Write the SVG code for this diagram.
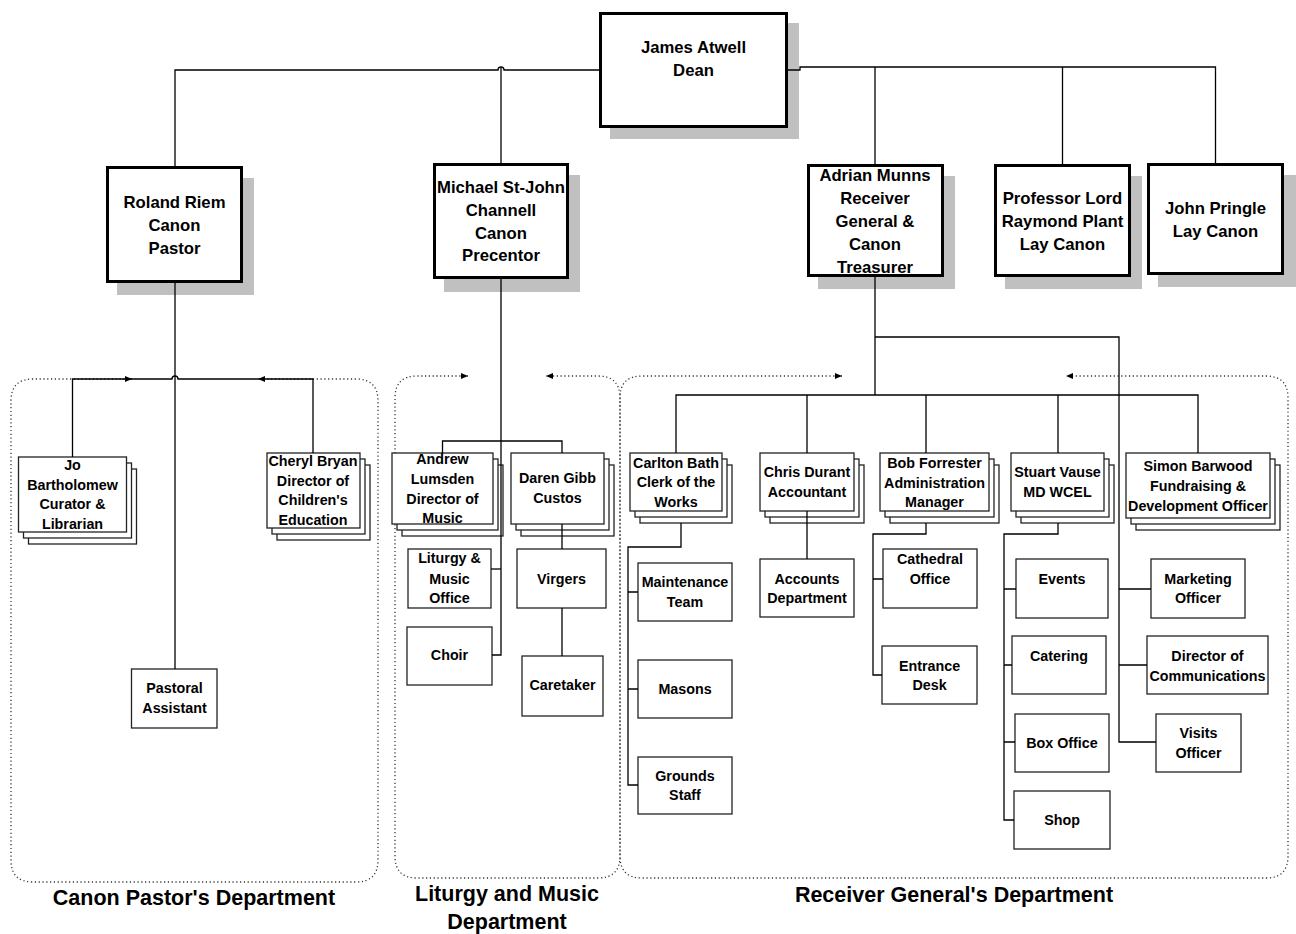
<svg xmlns="http://www.w3.org/2000/svg" width="1296" height="934" viewBox="0 0 1296 934">
<defs>
<style>
text{font-family:"Liberation Sans",Arial,sans-serif;font-weight:bold;text-anchor:middle;fill:#000}
.big{font-size:16.7px}
.sm{font-size:14.3px}
.dept{font-size:21.5px}
.shadow{fill:#c0c0c0;stroke:none}
.top{fill:#fff;stroke:#000;stroke-width:3}
.box{fill:#fff;stroke:#222;stroke-width:1.3}
.conn{fill:none;stroke:#000;stroke-width:1.3}
.frame{fill:none;stroke:#333;stroke-width:1.3;stroke-dasharray:1.2 2.6}
</style>
<marker id="arr" viewBox="0 0 7 6" refX="7" refY="3" markerWidth="7" markerHeight="6" markerUnits="userSpaceOnUse" orient="auto-start-reverse">
<path d="M0,0 L7,3 L0,6 z" fill="#000"/>
</marker>
</defs>
<rect width="1296" height="934" fill="#fff"/>

<g id="departments">
<path class="frame" marker-start="url(#arr)" marker-end="url(#arr)" d="M132,379 H33 Q11,379 11,401 V860 Q11,882 33,882 H356 Q378,882 378,860 V401 Q378,379 356,379 H258"/>
<path class="frame" marker-start="url(#arr)" marker-end="url(#arr)" d="M468,376 H417 Q395,376 395,398 V856 Q395,878 417,878 H598 Q620,878 620,856 V398 Q620,376 598,376 H546"/>
<path class="frame" marker-start="url(#arr)" marker-end="url(#arr)" d="M842,376 H642 Q620,376 620,398 V856 Q620,878 642,878 H1266 Q1288,878 1288,856 V398 Q1288,376 1266,376 H1066"/>
<text class="dept" x="194" y="905">Canon Pastor's Department</text>
<text class="dept" x="507" y="901">Liturgy and Music</text>
<text class="dept" x="507" y="929">Department</text>
<text class="dept" x="954" y="902">Receiver General's Department</text>
</g>

<g id="dean">
<rect class="shadow" x="610" y="23" width="189" height="116"/>
<rect class="top" x="600.5" y="13.5" width="186" height="113"/>
<text class="big" x="693.5" y="52.5">James Atwell</text>
<text class="big" x="693.5" y="75.5">Dean</text>
</g>
<g id="roland">
<rect class="shadow" x="117" y="178" width="137" height="117"/>
<rect class="top" x="107.5" y="167.5" width="134" height="114"/>
<text class="big" x="174.5" y="207.5">Roland Riem</text>
<text class="big" x="174.5" y="230.5">Canon</text>
<text class="big" x="174.5" y="253.5">Pastor</text>
</g>
<g id="michael">
<rect class="shadow" x="444" y="175" width="136" height="117"/>
<rect class="top" x="434.5" y="164.5" width="133" height="113"/>
<text class="big" x="501" y="193">Michael St-John</text>
<text class="big" x="501" y="216">Channell</text>
<text class="big" x="501" y="238.5">Canon</text>
<text class="big" x="501" y="261">Precentor</text>
</g>
<g id="adrian">
<rect class="shadow" x="818" y="176" width="137" height="113"/>
<rect class="top" x="808.5" y="165.5" width="134" height="110"/>
<text class="big" x="875" y="181">Adrian Munns</text>
<text class="big" x="875" y="204">Receiver</text>
<text class="big" x="875" y="227">General &amp;</text>
<text class="big" x="875" y="250">Canon</text>
<text class="big" x="875" y="273">Treasurer</text>
</g>
<g id="plant">
<rect class="shadow" x="1005" y="176" width="137" height="113"/>
<rect class="top" x="995.5" y="165.5" width="134" height="110"/>
<text class="big" x="1062.5" y="204">Professor Lord</text>
<text class="big" x="1062.5" y="227">Raymond Plant</text>
<text class="big" x="1062.5" y="250">Lay Canon</text>
</g>
<g id="pringle">
<rect class="shadow" x="1158" y="175" width="138" height="112"/>
<rect class="top" x="1148.5" y="164.5" width="134" height="109"/>
<text class="big" x="1215.5" y="214">John Pringle</text>
<text class="big" x="1215.5" y="237">Lay Canon</text>
</g>

<g id="jo">
<rect class="box" x="28.5" y="469" width="108" height="75"/>
<rect class="box" x="23.5" y="463" width="108" height="75"/>
<rect class="box" x="18.5" y="457" width="108" height="75"/>
<text class="sm" x="72.5" y="470">Jo</text>
<text class="sm" x="72.5" y="489.5">Bartholomew</text>
<text class="sm" x="72.5" y="509">Curator &amp;</text>
<text class="sm" x="72.5" y="528.5">Librarian</text>
</g>
<g id="cheryl">
<rect class="box" x="277" y="465" width="93" height="75"/>
<rect class="box" x="272" y="459" width="93" height="75"/>
<rect class="box" x="267" y="453" width="93" height="75"/>
<text class="sm" x="313" y="466">Cheryl Bryan</text>
<text class="sm" x="313" y="485.5">Director of</text>
<text class="sm" x="313" y="505">Children's</text>
<text class="sm" x="313" y="525">Education</text>
</g>
<g id="pastoral">
<rect class="box" x="131.5" y="669" width="85.5" height="59"/>
<text class="sm" x="174.5" y="693">Pastoral</text>
<text class="sm" x="174.5" y="713">Assistant</text>
</g>

<g id="andrew">
<rect class="box" x="402" y="465" width="101" height="71"/>
<rect class="box" x="397" y="459" width="101" height="71"/>
<rect class="box" x="392" y="453" width="101" height="71"/>
<text class="sm" x="442.5" y="463.5">Andrew</text>
<text class="sm" x="442.5" y="483.5">Lumsden</text>
<text class="sm" x="442.5" y="503.5">Director of</text>
<text class="sm" x="442.5" y="523">Music</text>
</g>
<g id="daren">
<rect class="box" x="521" y="465" width="93" height="71"/>
<rect class="box" x="516" y="459" width="93" height="71"/>
<rect class="box" x="511" y="453" width="93" height="71"/>
<text class="sm" x="557.5" y="483">Daren Gibb</text>
<text class="sm" x="557.5" y="503">Custos</text>
</g>
<g id="liturgyoffice">
<rect class="box" x="408" y="549" width="83" height="59"/>
<text class="sm" x="449.5" y="563">Liturgy &amp;</text>
<text class="sm" x="449.5" y="583.5">Music</text>
<text class="sm" x="449.5" y="603">Office</text>
</g>
<g id="virgers">
<rect class="box" x="517" y="549" width="89" height="59"/>
<text class="sm" x="561.5" y="583.5">Virgers</text>
</g>
<g id="choir">
<rect class="box" x="407" y="627" width="85" height="58"/>
<text class="sm" x="449.5" y="660">Choir</text>
</g>
<g id="caretaker">
<rect class="box" x="522" y="656" width="81" height="60"/>
<text class="sm" x="562.5" y="690">Caretaker</text>
</g>

<g id="carlton">
<rect class="box" x="640" y="465" width="92" height="58"/>
<rect class="box" x="635" y="459" width="92" height="58"/>
<rect class="box" x="630" y="453" width="92" height="58"/>
<text class="sm" x="676" y="467.5">Carlton Bath</text>
<text class="sm" x="676" y="487">Clerk of the</text>
<text class="sm" x="676" y="506.5">Works</text>
</g>
<g id="maintenance">
<rect class="box" x="638" y="563" width="94" height="58"/>
<text class="sm" x="685" y="587">Maintenance</text>
<text class="sm" x="685" y="607">Team</text>
</g>
<g id="masons">
<rect class="box" x="638" y="660" width="94" height="58"/>
<text class="sm" x="685" y="694">Masons</text>
</g>
<g id="grounds">
<rect class="box" x="638" y="757" width="94" height="57"/>
<text class="sm" x="685" y="781">Grounds</text>
<text class="sm" x="685" y="800">Staff</text>
</g>
<g id="chris">
<rect class="box" x="770" y="465" width="94" height="58"/>
<rect class="box" x="765" y="459" width="94" height="58"/>
<rect class="box" x="760" y="453" width="94" height="58"/>
<text class="sm" x="807" y="477">Chris Durant</text>
<text class="sm" x="807" y="497">Accountant</text>
</g>
<g id="accounts">
<rect class="box" x="760" y="559" width="94" height="58"/>
<text class="sm" x="807" y="584">Accounts</text>
<text class="sm" x="807" y="603">Department</text>
</g>
<g id="bob">
<rect class="box" x="890" y="465" width="109" height="58"/>
<rect class="box" x="885" y="459" width="109" height="58"/>
<rect class="box" x="880" y="453" width="109" height="58"/>
<text class="sm" x="934.5" y="468">Bob Forrester</text>
<text class="sm" x="934.5" y="487.5">Administration</text>
<text class="sm" x="934.5" y="507">Manager</text>
</g>
<g id="cathedral">
<rect class="box" x="883" y="549" width="94" height="59"/>
<text class="sm" x="930" y="564">Cathedral</text>
<text class="sm" x="930" y="583.5">Office</text>
</g>
<g id="entrance">
<rect class="box" x="882" y="646" width="95" height="58"/>
<text class="sm" x="929.5" y="671">Entrance</text>
<text class="sm" x="929.5" y="690">Desk</text>
</g>
<g id="stuart">
<rect class="box" x="1021" y="465" width="93" height="58"/>
<rect class="box" x="1016" y="459" width="93" height="58"/>
<rect class="box" x="1011" y="453" width="93" height="58"/>
<text class="sm" x="1057.5" y="477">Stuart Vause</text>
<text class="sm" x="1057.5" y="497">MD WCEL</text>
</g>
<g id="events">
<rect class="box" x="1016" y="559" width="92" height="59"/>
<text class="sm" x="1062" y="584">Events</text>
</g>
<g id="catering">
<rect class="box" x="1012" y="636" width="94" height="58"/>
<text class="sm" x="1059" y="661">Catering</text>
</g>
<g id="boxoffice">
<rect class="box" x="1015" y="714" width="94" height="58"/>
<text class="sm" x="1062" y="747.5">Box Office</text>
</g>
<g id="shop">
<rect class="box" x="1014" y="791" width="96" height="58"/>
<text class="sm" x="1062" y="825">Shop</text>
</g>
<g id="simon">
<rect class="box" x="1136" y="465" width="144" height="65"/>
<rect class="box" x="1131" y="459" width="144" height="65"/>
<rect class="box" x="1126" y="453" width="144" height="65"/>
<text class="sm" x="1198" y="471">Simon Barwood</text>
<text class="sm" x="1198" y="491">Fundraising &amp;</text>
<text class="sm" x="1198" y="511">Development Officer</text>
</g>
<g id="marketing">
<rect class="box" x="1151" y="559" width="94" height="59"/>
<text class="sm" x="1198" y="584">Marketing</text>
<text class="sm" x="1198" y="603">Officer</text>
</g>
<g id="comms">
<rect class="box" x="1147" y="636" width="121" height="58"/>
<text class="sm" x="1207.5" y="661">Director of</text>
<text class="sm" x="1207.5" y="681">Communications</text>
</g>
<g id="visits">
<rect class="box" x="1156" y="714" width="85" height="58"/>
<text class="sm" x="1198.5" y="737.5">Visits</text>
<text class="sm" x="1198.5" y="758">Officer</text>
</g>

<g id="connectors">
<path class="conn" d="M599,70 H504 A3,3 0 0 0 498,70 H175 V166"/>
<path class="conn" d="M501,68 V163"/>
<path class="conn" d="M788,70 H800 V67 H1215.5 V163"/>
<path class="conn" d="M875,67 V164"/>
<path class="conn" d="M1062.5,67 V164"/>
<path class="conn" d="M175,283 V669"/>
<path class="conn" d="M72.5,457 V379 H172 A3,3 0 0 1 178,379 H313 V453"/>
<path class="conn" d="M501,279 V655 H492"/>
<path class="conn" d="M501,569 H491"/>
<path class="conn" d="M442.5,453 V441 H562 V453"/>
<path class="conn" d="M562,524 V549"/>
<path class="conn" d="M562,608 V656"/>
<path class="conn" d="M875,277 V395"/>
<path class="conn" d="M875,337 H1119 V742 H1156"/>
<path class="conn" d="M1119,589 H1151 M1119,665 H1147"/>
<path class="conn" d="M676,453 V395 H1198 V453"/>
<path class="conn" d="M807,395 V453 M926,395 V453 M1058,395 V453"/>
<path class="conn" d="M681,523 V547 H628 V785 H638 M628,592 H638 M628,689 H638"/>
<path class="conn" d="M807,511 V559"/>
<path class="conn" d="M926,523 V534 H873 V675 H882 M873,579 H883"/>
<path class="conn" d="M1058,523 V534 H1004 V820 H1014 M1004,589 H1016 M1004,665 H1012 M1004,742 H1015"/>
</g>
</svg>
